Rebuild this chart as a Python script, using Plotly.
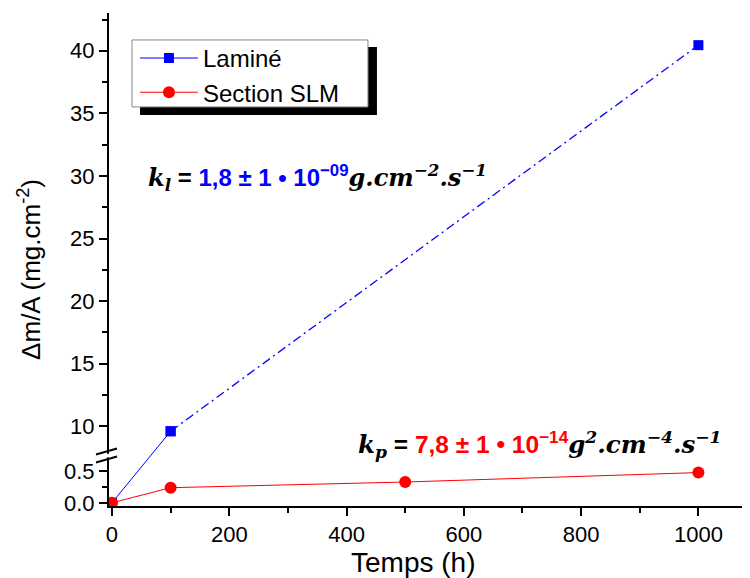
import plotly.graph_objects as go

# ---- data ----
temps_lamine = [0, 100, 1000]
dm_lamine = [0.0, 9.6, 40.45]
temps_slm = [0, 100, 500, 1000]
dm_slm = [0.0, 0.24, 0.33, 0.48]

ytick_values = [0.0, 0.5, 10, 15, 20, 25, 30, 35, 40]
ytick_labels = ["0.0", "0.5", "10", "15", "20", "25", "30", "35", "40"]
yminor_values = [0.25, 12.5, 17.5, 22.5, 27.5, 32.5, 37.5, 42.5]
xtick_values = [0, 200, 400, 600, 800, 1000]

# ---- broken-axis scale (lower segment 0..0.6, upper segment 8..43) ----
S_LO = 63.0      # display units per unit, lower segment
S_HI = 12.52     # display units per unit, upper segment
D10 = 76.6       # display coordinate of value 10
LO_MAX = 1.0


def to_disp(v):
    return v * S_LO if v <= LO_MAX else D10 + (v - 10.0) * S_HI


def disp_list(vals):
    return [to_disp(v) for v in vals]


BLUE = "#0000FF"
RED = "#FF0000"
FONT = "Liberation Sans, Arial, sans-serif"

fig = go.Figure()

yl = disp_list(dm_lamine)
ys = disp_list(dm_slm)

# Laminé: solid segment (with legend entry), then dash-dot
fig.add_trace(go.Scatter(
    x=temps_lamine[:2], y=yl[:2], mode="lines+markers", name="Laminé",
    customdata=dm_lamine[:2],
    hovertemplate="%{x} h: %{customdata}<extra>Laminé</extra>",
    marker=dict(symbol="square", size=10, color=BLUE),
    line=dict(color=BLUE, width=1)))
fig.add_trace(go.Scatter(
    x=temps_lamine[1:], y=yl[1:], mode="lines+markers", showlegend=False,
    customdata=dm_lamine[1:],
    hovertemplate="%{x} h: %{customdata}<extra>Laminé</extra>",
    marker=dict(symbol="square", size=10, color=BLUE),
    line=dict(color=BLUE, width=1.3, dash="9px,4px,2px,4px")))

fig.add_trace(go.Scatter(
    x=temps_slm, y=ys, mode="lines+markers", name="Section SLM",
    customdata=dm_slm,
    hovertemplate="%{x} h: %{customdata}<extra>Section SLM</extra>",
    marker=dict(symbol="circle", size=12, color=RED),
    line=dict(color=RED, width=1)))

# Axis break marks
for yb in [51.3, 43.3]:
    fig.add_shape(type="line", xref="paper", yref="y",
                  x0=-0.0203, x1=0.0125, y0=yb - 3, y1=yb + 3,
                  line=dict(color="black", width=2))
# white gap in axis line between the break marks
fig.add_shape(type="line", xref="paper", yref="y",
              x0=-0.0005, x1=-0.0005, y0=45.5, y1=49.0,
              line=dict(color="white", width=4), layer="above")

# Legend shadow and box
fig.add_shape(type="rect", xref="paper", yref="paper",
              x0=0.0484, x1=0.418, y0=0.793, y1=0.931,
              fillcolor="black", line=dict(width=0), layer="below")
fig.add_shape(type="rect", xref="paper", yref="paper",
              x0=0.0359, x1=0.404, y0=0.8095, y1=0.9453,
              fillcolor="white", line=dict(color="#888888", width=1), layer="below")

ann_style = "font-family:'DejaVu Serif';font-weight:bold;font-style:italic"
num_style = "font-family:'Liberation Sans';font-weight:bold"

kl_text = (f"<span style=\"{ann_style}\">k<sub>l</sub></span>"
           f"<span style=\"{num_style}\"> = </span>"
           f"<span style=\"{num_style};fill:{BLUE}\">1,8 ± 1 • 10<sup>−09</sup></span>"
           f"<span style=\"{ann_style}\">g.cm<sup>−2</sup>.s<sup>−1</sup></span>")
kp_text = (f"<span style=\"{ann_style}\">k<sub>p</sub></span>"
           f"<span style=\"{num_style}\"> = </span>"
           f"<span style=\"{num_style};fill:{RED}\">7,8 ± 1 • 10<sup>−14</sup></span>"
           f"<span style=\"{ann_style}\">g<sup>2</sup>.cm<sup>−4</sup>.s<sup>−1</sup></span>")

fig.add_annotation(x=0.0577, y=0.6657, xref="paper", yref="paper",
                   text=kl_text, showarrow=False, xanchor="left", yanchor="middle",
                   font=dict(size=24, color="black"))
fig.add_annotation(x=0.385, y=0.1246, xref="paper", yref="paper",
                   text=kp_text, showarrow=False, xanchor="left", yanchor="middle",
                   font=dict(size=24.5, color="black"))

# axis titles
fig.add_annotation(x=-0.1232, y=0.479, xref="paper", yref="paper",
                   text="Δm/A (mg.cm<sup>-2</sup>)", textangle=-90, showarrow=False,
                   xanchor="center", yanchor="middle",
                   font=dict(size=26, color="black", family=FONT))
fig.add_annotation(x=0.474, y=-0.1145, xref="paper", yref="paper",
                   text="Temps (h)", showarrow=False,
                   xanchor="center", yanchor="middle",
                   font=dict(size=28, color="black", family=FONT))

fig.update_layout(
    width=742, height=570,
    margin=dict(l=101, r=0, t=5, b=71.5),
    paper_bgcolor="white", plot_bgcolor="white",
    font=dict(family=FONT, color="black"),
    showlegend=True,
    legend=dict(x=0.0405, y=0.9535, xanchor="left", yanchor="top",
                bgcolor="rgba(0,0,0,0)", borderwidth=0,
                font=dict(size=24, family=FONT), itemwidth=58,
                tracegroupgap=0),
    xaxis=dict(range=[-5.1, 1088], showgrid=False, zeroline=False,
               showline=True, linecolor="black", linewidth=2,
               ticks="outside", ticklen=8, tickwidth=2, tickcolor="black",
               tickmode="array", tickvals=xtick_values,
               tickfont=dict(size=22),
               minor=dict(ticks="outside", ticklen=5, tickwidth=2,
                          tickcolor="black", dtick=100, tick0=0)),
    yaxis=dict(range=[-3.2, 490], showgrid=False, zeroline=False,
               showline=True, linecolor="black", linewidth=2,
               ticks="outside", ticklen=8, tickwidth=2, tickcolor="black",
               tickmode="array", tickvals=disp_list(ytick_values),
               ticktext=ytick_labels, tickfont=dict(size=22),
               minor=dict(ticks="outside", ticklen=5, tickwidth=2,
                          tickcolor="black", tickvals=disp_list(yminor_values))),
)

fig.write_html("out.html")
